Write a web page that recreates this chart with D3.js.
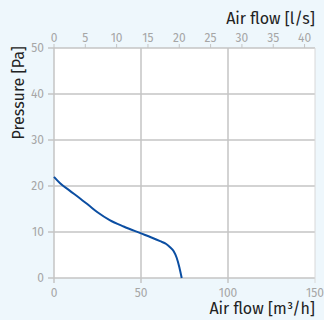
<!DOCTYPE html>
<html><head><meta charset="utf-8">
<script src="https://cdn.jsdelivr.net/npm/d3@7"></script>
<style>
html,body{margin:0;padding:0;background:#eef7fc;}
svg{display:block;font-family:"Fira Sans","Open Sans","Noto Sans",sans-serif;}
</style></head><body>
<svg id="c" width="324" height="320"></svg>
<script>
const flowM3h = [0, 3.5, 9, 15, 20, 25, 32, 40, 50, 56, 61, 64.5, 66.7, 68.8, 70.5, 72, 73.4];
const pressure = [22, 20.6, 19.0, 17.3, 15.8, 14.3, 12.6, 11.2, 9.7, 8.8, 8.0, 7.4, 6.7, 5.8, 4.4, 2.4, 0];
const xTicks = [0, 50, 100, 150];
const yTicks = [0, 10, 20, 30, 40, 50];
const topTicks = [0, 5, 10, 15, 20, 25, 30, 35, 40];

const svg = d3.select("#c");
const L = 54, R = 315, T = 48, B = 278;
const x = d3.scaleLinear().domain([0, 150]).range([L, R]);
const xl = d3.scaleLinear().domain([0, 150 / 3.6]).range([L, R]);
const y = d3.scaleLinear().domain([0, 50]).range([B, T]);

svg.append("rect").attr("x", L).attr("y", T).attr("width", R - L).attr("height", B - T).attr("fill", "#fff");

const grid = "#c4c4c4";
svg.append("g").selectAll("line").data(yTicks).join("line")
  .attr("x1", L - 6).attr("x2", R).attr("y1", d => y(d)).attr("y2", d => y(d))
  .attr("stroke", grid).attr("stroke-width", 1.5);
svg.append("g").selectAll("line").data(xTicks).join("line")
  .attr("x1", d => x(d)).attr("x2", d => x(d)).attr("y1", T).attr("y2", B + 5)
  .attr("stroke", d => d === 150 ? "#d8d8d8" : grid).attr("stroke-width", d => d === 150 ? 1 : 1.5);

svg.append("g").selectAll("text").data(yTicks).join("text")
  .attr("x", L - 10).attr("y", d => y(d)).attr("dy", "0.35em")
  .attr("text-anchor", "end").attr("font-size", 12).attr("fill", "#a6a6a6").text(d => d);
svg.append("g").selectAll("text").data(xTicks).join("text")
  .attr("x", d => x(d)).attr("y", B + 19)
  .attr("text-anchor", "middle").attr("font-size", 12).attr("fill", "#a6a6a6").text(d => d);
svg.append("g").selectAll("line").data(topTicks).join("line")
  .attr("x1", d => xl(d)).attr("x2", d => xl(d)).attr("y1", T - 4).attr("y2", T)
  .attr("stroke", grid).attr("stroke-width", 1);
svg.append("g").selectAll("text").data(topTicks).join("text")
  .attr("x", d => xl(d)).attr("y", T - 6)
  .attr("text-anchor", "middle").attr("font-size", 12).attr("fill", "#a6a6a6").text(d => d);

svg.append("text").attr("x", R).attr("y", 24).attr("text-anchor", "end")
  .attr("font-size", 16).attr("fill", "#222").text("Air flow [l/s]");
svg.append("text").attr("x", R).attr("y", 314).attr("text-anchor", "end")
  .attr("font-size", 16).attr("fill", "#222").text("Air flow [m³/h]");
svg.append("text").attr("transform", `translate(24,${T - 2}) rotate(-90)`).attr("text-anchor", "end")
  .attr("font-size", 16).attr("fill", "#222").text("Pressure [Pa]");

const pts = flowM3h.map((f, i) => [f, pressure[i]]);
svg.append("path").datum(pts)
  .attr("d", d3.line().x(d => x(d[0])).y(d => y(d[1])).curve(d3.curveMonotoneX))
  .attr("fill", "none").attr("stroke", "#0b4ea2").attr("stroke-width", 2);
</script>
</body></html>
